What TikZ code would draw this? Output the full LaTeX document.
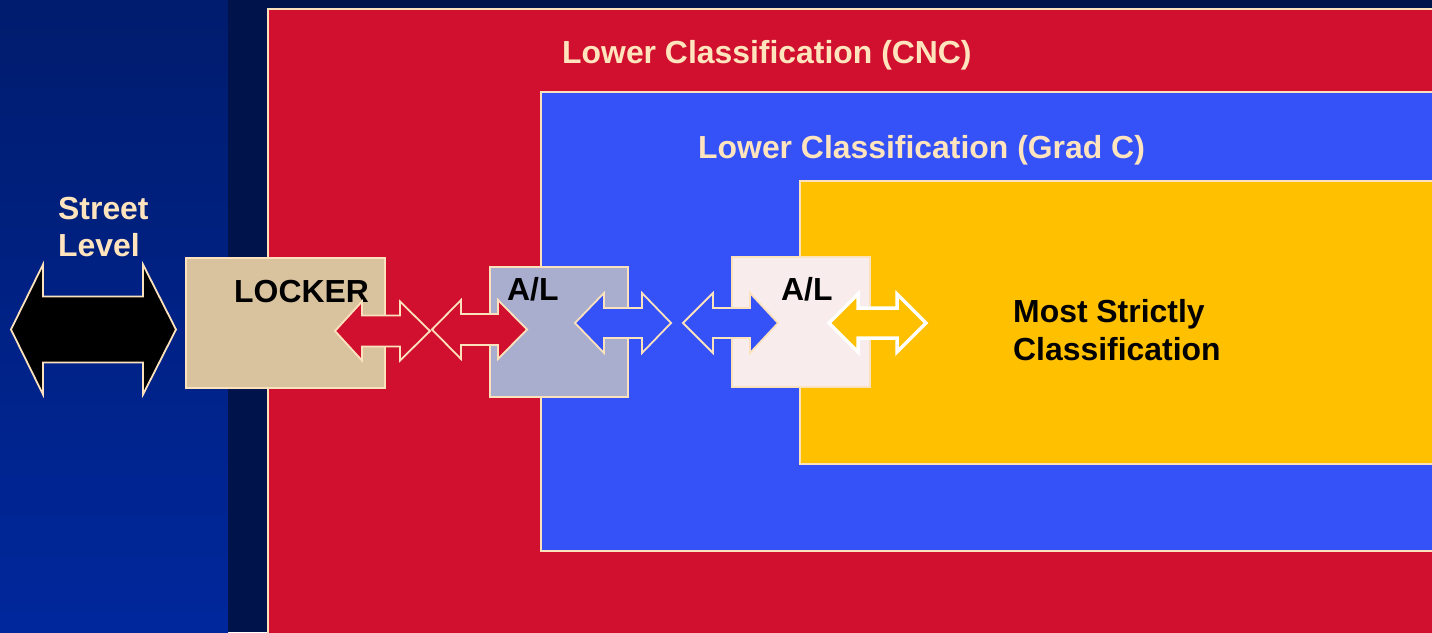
\documentclass[tikz,border=0pt]{standalone}
\usepackage{fontspec}
\setmainfont{Liberation Sans}
\definecolor{bgtop}{HTML}{001C6E}
\definecolor{bgbot}{HTML}{00279C}
\definecolor{navy}{HTML}{00134A}
\definecolor{cream}{HTML}{FCE2BC}
\definecolor{txtcream}{HTML}{FFE4BE}
\definecolor{redzone}{HTML}{D0102E}
\definecolor{bluezone}{HTML}{3552F8}
\definecolor{yellowzone}{HTML}{FFC000}
\definecolor{lockerfill}{HTML}{D9C39F}
\definecolor{alonefill}{HTML}{A9AECE}
\definecolor{altwofill}{HTML}{F9ECEC}
\tikzset{
  zone/.style={draw=cream, line width=2.2pt},
  box/.style={draw=cream, line width=2.2pt, inner sep=0pt},
  lbl/.style={inner sep=0pt, anchor=base west, font=\bfseries\fontsize{31.9}{38}\selectfont},
  arr/.style={draw=cream, line width=1.8pt, line join=miter},
}
% #1 style, #2 left tip, #3 left head base, #4 right head base, #5 right tip, #6 centre y, #7 head half height, #8 shaft half height
\newcommand\dblarrow[8]{%
  \path[#1] (#2,#6) -- (#3,#6-#7) -- (#3,#6-#8) -- (#4,#6-#8) -- (#4,#6-#7) -- (#5,#6)
    -- (#4,#6+#7) -- (#4,#6+#8) -- (#3,#6+#8) -- (#3,#6+#7) -- cycle;}
\begin{document}
\begin{tikzpicture}[x=1pt,y=-1pt]
\useasboundingbox (0,0) rectangle (1432,632);
\begin{scope}
\clip (0,0) rectangle (1432,632);
% background
\shade[top color=bgtop, bottom color=bgbot] (0,0) rectangle (228,632);
\fill[navy] (228,0) rectangle (1432,632);
% zones
\path[zone, fill=redzone] (268,9) rectangle (1445,645);
\path[zone, fill=bluezone] (541,92) rectangle (1445,551);
\path[zone, fill=yellowzone] (800,181) rectangle (1445,464);
\end{scope}
% boxes
\node[box, fill=lockerfill, minimum width=199, minimum height=130] (locker) at (285.5,323) {};
\node[box, fill=alonefill, minimum width=138, minimum height=130] (al1) at (559,332) {};
\node[box, fill=altwofill, minimum width=138, minimum height=130] (al2) at (801,322) {};
% labels
\node[lbl, text=txtcream] (cnc) at (562,63) {Lower Classification (CNC)};
\node[lbl, text=txtcream] (gradc) at (698,158) {Lower Classification (Grad C)};
\node[lbl, text=txtcream] (street) at (58,219) {Street};
\node[lbl, text=txtcream] (level) at (58,256) {Level};
\node[lbl, text=black] (lockertxt) at (234,302) {LOCKER};
\node[lbl, text=black] (al1txt) at (507,300) {A/L};
\node[lbl, text=black] (al2txt) at (781,300) {A/L};
\node[lbl, text=black] (most) at (1013,322) {Most Strictly};
\node[lbl, text=black] (classif) at (1013,360) {Classification};
% double arrows
\dblarrow{arr, fill=black}{11}{43}{143}{176}{329.5}{65}{33}
\dblarrow{arr, fill=redzone}{335}{362}{400}{430}{331}{29.5}{15.5}
\dblarrow{arr, fill=redzone}{432}{461}{498}{527}{329.5}{29.5}{15.5}
\dblarrow{arr, fill=bluezone}{575}{604}{642}{671}{323}{30}{15}
\dblarrow{arr, fill=bluezone}{683}{713}{750}{778}{323}{30}{15}
\dblarrow{draw=white, line width=3.5pt, line join=miter, fill=yellowzone}{829}{858}{897}{926}{323}{29}{15}
\end{tikzpicture}
\end{document}
